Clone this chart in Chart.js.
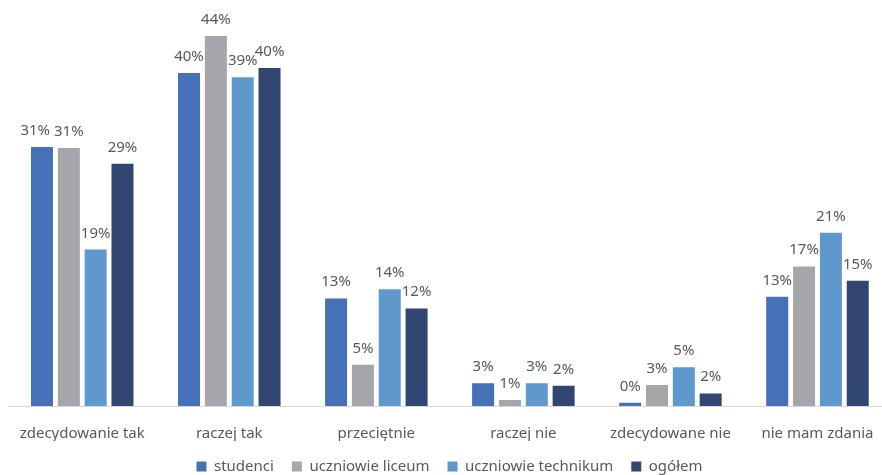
<!DOCTYPE html>
<html>
<head>
<meta charset="utf-8">
<script src="https://cdn.jsdelivr.net/npm/chart.js@4"></script>
<style>
  html, body { margin: 0; padding: 0; background: #fff; overflow: hidden; }
  #wrap { width: 902px; height: 475px; position: relative; }
</style>
</head>
<body>
<div id="wrap"><canvas id="ankieta"></canvas></div>
<script>
// dane z wykresu
const categories = ['zdecydowanie tak', 'raczej tak', 'przeciętnie', 'raczej nie', 'zdecydowane nie', 'nie mam zdania'];
const studenci = [30.8, 39.6, 12.8, 2.7, 0.4, 13.0];
const liceum = [30.7, 44.0, 4.9, 0.7, 2.5, 16.6];
const technikum = [18.6, 39.1, 13.9, 2.7, 4.6, 20.6];
const ogolem = [28.8, 40.2, 11.6, 2.4, 1.5, 14.9];

const txtColor = '#595959';
const fontFam = '"Noto Sans", "Open Sans", sans-serif';
const fontSize = 15;

// etykiety nad slupkami (z przesunieciem gdy nachodza na siebie)
const barLabels = {
	id: 'barLabels',
	afterDatasetsDraw(chart) {
		const c = chart.ctx;
		c.save();
		c.font = fontSize + 'px ' + fontFam;
		c.fillStyle = txtColor;
		c.textAlign = 'center';
		c.textBaseline = 'alphabetic';
		const n = chart.data.labels.length;
		const dsCount = chart.data.datasets.length;
		for (let j = 0; j < n; j++) {
			const items = [];
			for (let i = 0; i < dsCount; i++) {
				const bar = chart.getDatasetMeta(i).data[j];
				const txt = Math.round(chart.data.datasets[i].data[j]) + '%';
				items.push({ txt, x: bar.x, y: bar.y - 12, w: c.measureText(txt).width });
			}
			for (let i = dsCount - 2; i >= 0; i--) {
				const a = items[i], b = items[i + 1];
				if (Math.abs(a.y - b.y) < 4) {
					const over = (a.x + a.w / 2) - (b.x - b.w / 2) + 4;
					if (over > 0) a.x -= over;
				}
			}
			items.forEach(it => c.fillText(it.txt, it.x, it.y));
		}
		c.restore();
	}
};

const ctx = document.getElementById('ankieta').getContext('2d');
const chart = new Chart(ctx, {
	type: 'bar',
	data: {
		labels: categories,
		datasets: [
			{ label: 'studenci', data: studenci, backgroundColor: '#4670B8' },
			{ label: 'uczniowie liceum', data: liceum, backgroundColor: '#A5A6A9' },
			{ label: 'uczniowie technikum', data: technikum, backgroundColor: '#5F98CD' },
			{ label: 'ogółem', data: ogolem, backgroundColor: '#314672' },
		],
	},
	options: {
		responsive: true,
		maintainAspectRatio: false,
		animation: false,
		barPercentage: 0.82,
		categoryPercentage: 0.73,
		layout: { padding: { top: 10, left: 8, right: 11, bottom: 0 } },
		plugins: {
			tooltip: { enabled: false },
			legend: {
				position: 'bottom',
				maxHeight: 34,
				labels: {
					boxWidth: 10,
					boxHeight: 10,
					padding: 18,
					color: txtColor,
					font: { family: fontFam, size: fontSize },
				},
			},
		},
		scales: {
			x: {
				grid: { display: false, drawTicks: false },
				border: { display: true, color: '#D9D9D9', width: 1 },
				ticks: {
					color: txtColor,
					padding: 19,
					maxRotation: 0,
					font: { family: fontFam, size: fontSize },
				},
				afterFit(scale) {
					scale.height = 35;
				},
			},
			y: {
				display: false,
				min: 0,
				max: 47.1,
			},
		},
	},
	plugins: [barLabels],
});
</script>
</body>
</html>
